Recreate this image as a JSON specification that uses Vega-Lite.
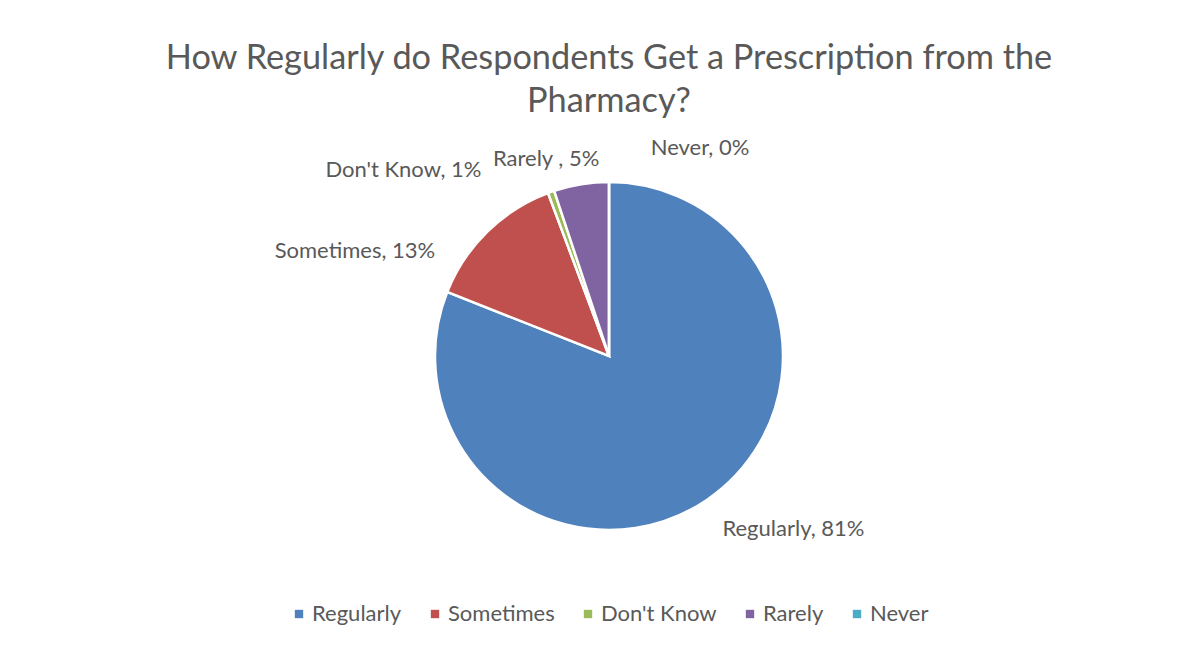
{
  "$schema": "https://vega.github.io/schema/vega-lite/v6.json",
  "autosize": {"type": "none"},
  "padding": {"top": 130, "left": 0, "right": 0, "bottom": 63},
  "width": 1218,
  "height": 452,
  "background": "white",
  "config": {"view": {"stroke": null}, "font": "Lato"},
  "title": {
    "text": ["How Regularly do Respondents Get a Prescription from the", "Pharmacy?"],
    "fontSize": 34.3,
    "fontWeight": "normal",
    "font": "Lato",
    "color": "#595959",
    "anchor": "middle",
    "lineHeight": 43,
    "offset": 11
  },
  "data": {
    "values": [
      {"Category": "Regularly", "Percent": 81.0, "Label": "Regularly, 81%", "Order": 1},
      {"Category": "Sometimes", "Percent": 13.3, "Label": "Sometimes, 13%", "Order": 2},
      {"Category": "Don't Know", "Percent": 0.6, "Label": "Don't Know, 1%", "Order": 3},
      {"Category": "Rarely", "Percent": 5.1, "Label": "Rarely , 5%", "Order": 4},
      {"Category": "Never", "Percent": 0.0, "Label": "Never, 0%", "Order": 5}
    ]
  },
  "encoding": {
    "theta": {"field": "Percent", "type": "quantitative", "stack": true},
    "order": {"field": "Order", "type": "quantitative"}
  },
  "layer": [
    {
      "mark": {"type": "arc", "outerRadius": 174, "stroke": "white", "strokeWidth": 2.5},
      "encoding": {
        "color": {
          "field": "Category",
          "type": "nominal",
          "scale": {
            "domain": ["Regularly", "Sometimes", "Don't Know", "Rarely", "Never"],
            "range": ["#4F81BD", "#C0504D", "#9BBB59", "#8064A2", "#4BACC6"]
          },
          "legend": {
            "orient": "none",
            "legendX": 288,
            "legendY": 473,
            "direction": "horizontal",
            "title": null,
            "padding": 0,
            "symbolType": "square",
            "symbolSize": 70,
            "symbolStrokeWidth": 0,
            "labelFontSize": 22,
            "labelFont": "Lato",
            "labelColor": "#595959",
            "columnPadding": 22,
            "labelOffset": 2
          }
        }
      }
    },
    {
      "mark": {"type": "text", "radius": 200, "dx": 72, "dy": 8, "fontSize": 22, "font": "Lato", "color": "#595959", "align": "center", "baseline": "middle"},
      "encoding": {"text": {"condition": {"test": "datum.Category === 'Regularly'", "field": "Label"}, "value": ""}}
    },
    {
      "mark": {"type": "text", "radius": 200, "dx": -114, "dy": 38, "fontSize": 22, "font": "Lato", "color": "#595959", "align": "center", "baseline": "middle"},
      "encoding": {"text": {"condition": {"test": "datum.Category === 'Sometimes'", "field": "Label"}, "value": ""}}
    },
    {
      "mark": {"type": "text", "radius": 200, "dx": -139, "dy": 3, "fontSize": 22, "font": "Lato", "color": "#595959", "align": "center", "baseline": "middle"},
      "encoding": {"text": {"condition": {"test": "datum.Category === \"Don't Know\"", "field": "Label"}, "value": ""}}
    },
    {
      "mark": {"type": "text", "radius": 200, "dx": -31, "dy": 0, "fontSize": 22, "font": "Lato", "color": "#595959", "align": "center", "baseline": "middle"},
      "encoding": {"text": {"condition": {"test": "datum.Category === 'Rarely'", "field": "Label"}, "value": ""}}
    },
    {
      "mark": {"type": "text", "radius": 200, "dx": 91, "dy": -8, "fontSize": 22, "font": "Lato", "color": "#595959", "align": "center", "baseline": "middle"},
      "encoding": {"text": {"condition": {"test": "datum.Category === 'Never'", "field": "Label"}, "value": ""}}
    }
  ]
}
